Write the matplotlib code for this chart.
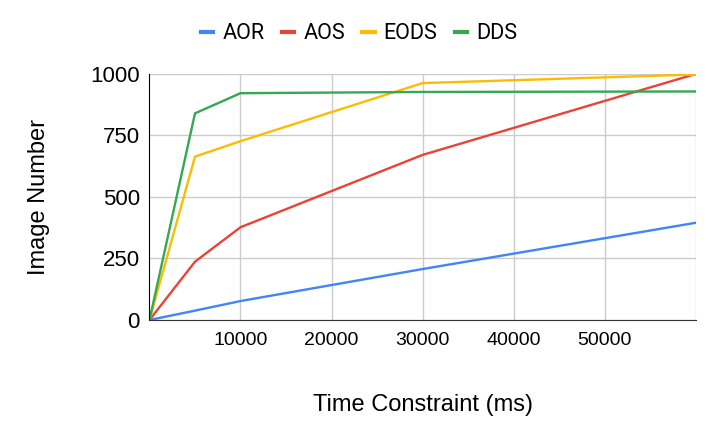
import matplotlib
matplotlib.use("Agg")
import matplotlib.pyplot as plt

# values
time_ms = [0, 5000, 10000, 30000, 60000]
aor = [0, 38, 77, 207, 395]
aos = [0, 237, 377, 671, 1000]
eods = [0, 664, 727, 963, 998]
dds = [0, 840, 922, 927, 929]

series = [
    ("AOR", aor, "#4285f4"),
    ("AOS", aos, "#ea4335"),
    ("EODS", eods, "#fbbc04"),
    ("DDS", dds, "#34a853"),
]

fig = plt.figure(figsize=(7.18, 4.41), dpi=100)
ax = fig.add_axes([0.2082, 0.2744, 0.7605, 0.5578])

for name, vals, color in series:
    ax.plot(time_ms, vals, color=color, linewidth=1.7, label=name, solid_joinstyle="miter")

ax.set_xlim(0, 60000)
ax.set_ylim(0, 1000)
ax.set_xticks([10000, 20000, 30000, 40000, 50000, 60000])
ax.set_xticklabels(["10000", "20000", "30000", "40000", "50000", ""])
ax.set_yticks([0, 250, 500, 750, 1000])

ax.grid(True, color="#cccccc", linewidth=1)
ax.set_axisbelow(True)
for side in ["top", "right"]:
    ax.spines[side].set_visible(False)
ax.spines["left"].set_color("#000000")
ax.spines["bottom"].set_color("#333333")
ax.tick_params(length=0)
ax.tick_params(axis="y", labelsize=16, pad=7)
ax.tick_params(axis="x", labelsize=14, pad=9)
for lbl in ax.get_xticklabels() + ax.get_yticklabels():
    lbl.set_family("Liberation Sans")

fig.text(0.054, 0.5533, "Image Number", rotation=90, ha="center", va="center",
         fontsize=17, family="Liberation Sans")
fig.text(0.5885, 0.082, "Time Constraint (ms)", ha="center", va="center",
         fontsize=17, family="Liberation Sans")

fig.legend(loc="center", bbox_to_anchor=(0.50, 0.923), ncol=4, frameon=False,
           handlelength=0.58, handletextpad=0.42, columnspacing=0.8,
           prop={"family": "Roboto", "size": 15.5})
for h in fig.legends[0].get_lines():
    h.set_linewidth(3)

fig.savefig("out.png", dpi=100)
